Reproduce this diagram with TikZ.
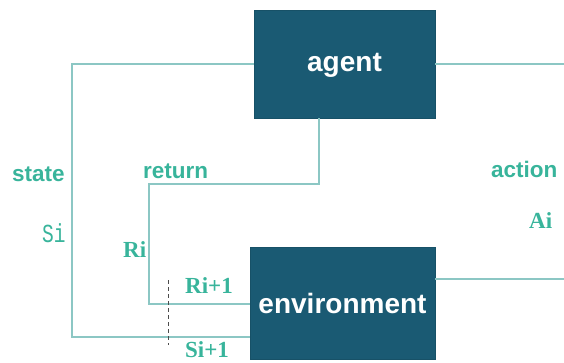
\documentclass[tikz,border=0pt]{standalone}
\usepackage{fontspec}
\setmainfont{Liberation Sans}
\newfontfamily\serifb{Liberation Serif}
\newfontfamily\monof{Liberation Mono}
\definecolor{boxfill}{HTML}{1A5A73}
\definecolor{linec}{HTML}{8CC7C4}
\definecolor{txtc}{HTML}{38B49B}
\begin{document}
\begin{tikzpicture}[x=1pt,y=-1pt,
  box/.style={draw=boxfill!90!black, line width=0.8pt, fill=boxfill, text=white, font=\fontsize{28}{32}\selectfont\bfseries, inner sep=0pt},
  conn/.style={draw=linec, line width=1.8pt},
  lab/.style={text=txtc, font=\fontsize{22.5}{26}\selectfont\bfseries, inner sep=0pt, anchor=base west},
  labs/.style={text=txtc, font=\fontsize{23}{26}\selectfont\serifb\bfseries, inner sep=0pt, anchor=base west},
  labm/.style={text=txtc, font=\fontsize{26}{30}\selectfont\monof, inner sep=0pt, anchor=base west, xscale=0.75}]
\useasboundingbox (0,0) rectangle (564,363);
\node[box, minimum width=181pt, minimum height=108pt, text depth=3pt] (agent) at (344.5,64) {agent};
\node[box, minimum width=185pt, minimum height=112pt] (env) at (342.5,303) {environment};
% state loop
\coordinate (sTop) at (72,64);
\coordinate (sBot) at (72,337);
\draw[conn] (agent.west) -- (sTop) -- (sBot) -- (sBot -| env.west);
% return loop
\coordinate (rA) at (319,184);
\coordinate (rB) at (149,184);
\coordinate (rC) at (149,304);
\draw[conn] (agent.south -| rA) -- (rA) -- (rB) -- (rC) -- (rC -| env.west);
% action
\coordinate (aR) at (564,64);
\coordinate (eR) at (564,279);
\draw[conn] (agent.east) -- (aR);
\draw[conn] (env.east |- eR) -- (eR);
% dashed marker
\coordinate (dT) at (168,280);
\coordinate (dB) at (168,345);
\draw[black!70, line width=1pt, dash pattern=on 4pt off 3pt] (dT) -- (dB);
% labels
\node[lab] (lstate) at (12,182) {state};
\node[labm] (lsi) at (42,242) {Si};
\node[lab] (lret) at (143,179) {return};
\node[labs] (lri) at (123,257) {Ri};
\node[labs] (lri1) at (185,293) {Ri+1};
\node[labs] (lsi1) at (185,357) {Si+1};
\node[lab] (lact) at (491,178) {action};
\node[labs] (lai) at (529,229) {Ai};
\end{tikzpicture}
\end{document}
